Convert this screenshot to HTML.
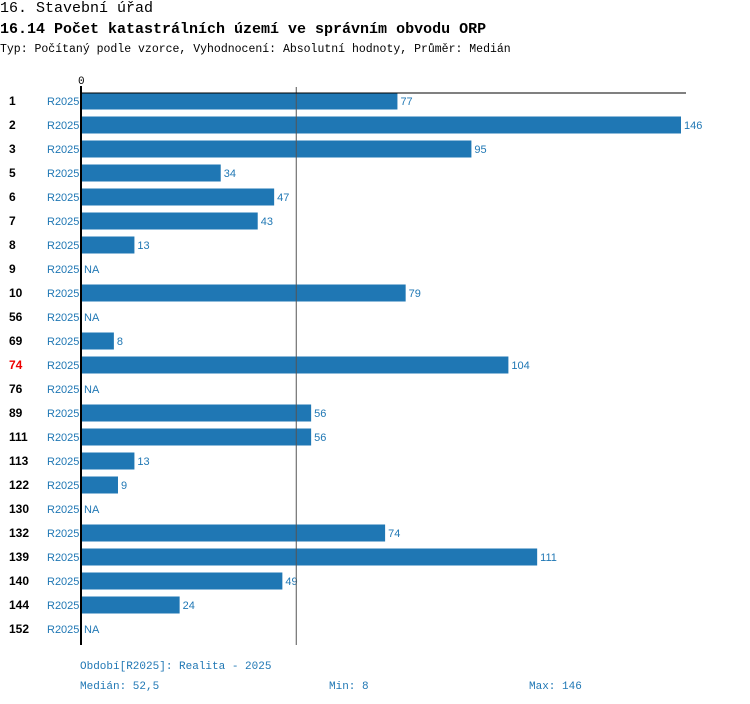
<!DOCTYPE html>
<html><head><meta charset="utf-8">
<style>
body{margin:0;width:750px;height:704px;background:#fff;overflow:hidden;font-family:"Liberation Mono",monospace;}
.t{position:absolute;left:0;white-space:nowrap;color:#000}
</style></head><body>
<div class="t" style="top:0;font-size:15px;">16. Stavební úřad</div>
<div class="t" style="top:21px;font-size:15px;font-weight:bold;">16.14 Počet katastrálních území ve správním obvodu ORP</div>
<div class="t" style="top:43px;font-size:11.5px;">Typ: Počítaný podle vzorce, Vyhodnocení: Absolutní hodnoty, Průměr: Medián</div>
<svg id="c" width="750" height="704" style="position:absolute;left:0;top:0"></svg>
<script>
const categories=["1","2","3","5","6","7","8","9","10","56","69","74","76","89","111","113","122","130","132","139","140","144","152"];
const values=[77,146,95,34,47,43,13,null,79,null,8,104,null,56,56,13,9,null,74,111,49,24,null];
const highlight=["74"];
const median=52.5, minV=8, maxV=146;
const x0=81, pxPerUnit=600/146, y0=101, step=24, bh=17;
const sx=v=>x0+v*pxPerUnit, sy=i=>y0+i*step;
const svg=document.getElementById('c'), NS="http://www.w3.org/2000/svg";
function mk(tag,attrs,txt){const e=document.createElementNS(NS,tag);for(const k in attrs)e.setAttribute(k,attrs[k]);if(txt!=null)e.textContent=txt;svg.appendChild(e);return e;}
const blue="#1f77b4";
let e=mk('text',{x:x0-3,y:84,'font-size':11,'font-family':'Liberation Mono, monospace',fill:'#000'},'0');


categories.forEach((c,i)=>{
  const y=sy(i);
  let l=mk('text',{x:9,y:y+4,'font-size':12,'font-weight':'bold','font-family':'Liberation Sans, sans-serif',fill:highlight.includes(c)?'#e00':'#000'},c);
  
  
  let p=mk('text',{x:47,y:y+4,'font-size':11,'font-family':'Liberation Sans, sans-serif',fill:blue},'R2025');
  
  
  const v=values[i];
  if(v==null){
    let n=mk('text',{x:x0+3,y:y+4,'font-size':11,'font-family':'Liberation Sans, sans-serif',fill:blue},'NA');
    
    
  }else{
    let b=mk('rect',{x:x0,y:y-bh/2,width:sx(v)-x0,height:bh,fill:blue});
    
    
    let t=mk('text',{x:sx(v)+3,y:y+4,'font-size':11,'font-family':'Liberation Sans, sans-serif',fill:blue},String(v));
    
    
  }
});
const yb=sy(categories.length-1)+16;
let m=mk('line',{x1:sx(median)-0.5,x2:sx(median)-0.5,y1:87,y2:yb,stroke:'#555','stroke-width':1});


let a=mk('line',{x1:x0,x2:x0,y1:86,y2:yb,stroke:'#000','stroke-width':2});


let h=mk('line',{x1:x0,x2:686,y1:93,y2:93,stroke:'#000','stroke-width':1});


const foot=[[80,669,'Období[R2025]: Realita - 2025','period-legend'],[80,689,'Medián: '+String(median).replace('.',','),'median-stat'],[329,689,'Min: '+minV,'min-stat'],[529,689,'Max: '+maxV,'max-stat']];
foot.forEach(f=>{let t=mk('text',{x:f[0],y:f[1],'font-size':11,'font-family':'Liberation Mono, monospace',fill:blue},f[2]);

});
</script>
</body></html>
